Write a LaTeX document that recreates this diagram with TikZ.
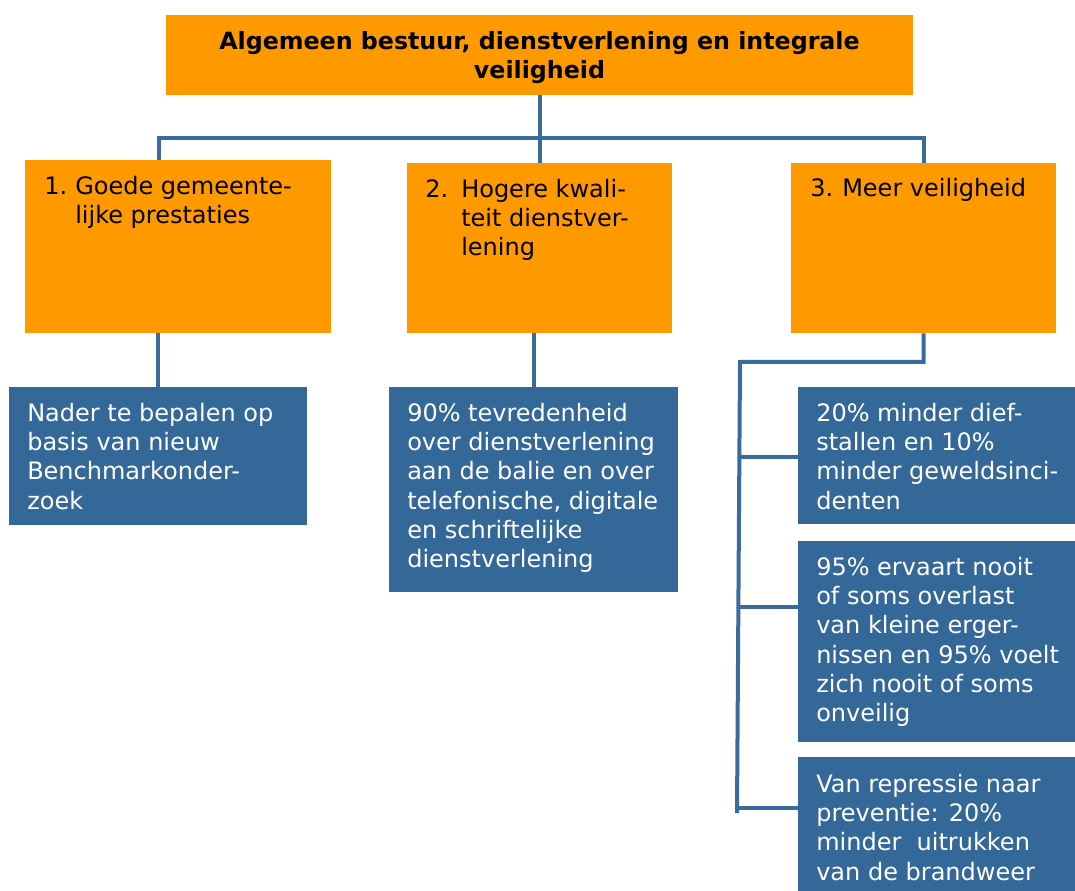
\documentclass[tikz,border=0pt]{standalone}
\usepackage{fontspec}
\setmainfont{DejaVu Sans}
\usetikzlibrary{fit}
\definecolor{oranje}{HTML}{FF9900}
\definecolor{blauw}{HTML}{346899}
\definecolor{lijn}{HTML}{3A6B9D}
\tikzset{
  orangebox/.style={fill=oranje, inner sep=0pt},
  bluebox/.style={fill=blauw, inner sep=0pt},
  conn/.style={draw=lijn, line width=3pt},
  txt/.style={anchor=north west, inner sep=0pt, align=left, font=\fontsize{18}{22}\selectfont},
  wtxt/.style={txt, text=white}
}
\begin{document}
\begin{tikzpicture}[x=0.75pt, y=-0.75pt]
\useasboundingbox (0,0) rectangle (1075,891);

% top box
\node[orangebox, fit={(166,15) (913,95)}] (top) {};
\node[txt, anchor=north, align=center, font=\fontsize{17.8}{22}\selectfont\bfseries] (title) at (539.5,28.5) {\strut Algemeen bestuur, dienstverlening en integrale\\veiligheid};

% goals
\node[orangebox, fit={(25,160) (331,333)}] (g1) {};
\node[orangebox, fit={(407,163) (672,333)}] (g2) {};
\node[orangebox, fit={(791,163) (1056,333)}] (g3) {};
\node[txt] (n1) at (44,173.5) {\strut 1.};
\node[txt] (t1) at (75,173.5) {\strut Goede gemeente-\\lijke prestaties};
\node[txt] (n2) at (425,176.5) {\strut 2.};
\node[txt] (t2) at (461,176.5) {\strut Hogere kwali-\\teit dienstver-\\lening};
\node[txt] (n3) at (810,175.5) {\strut 3.};
\node[txt] (t3) at (842,175.5) {\strut Meer veiligheid};

% targets
\node[bluebox, fit={(9,387) (307,525)}] (b1) {};
\node[bluebox, fit={(389,387) (678,592)}] (b2) {};
\node[bluebox, fit={(798,387) (1075,524)}] (b3a) {};
\node[bluebox, fit={(798,541) (1075,742)}] (b3b) {};
\node[bluebox, fit={(798,757) (1075,891)}] (b3c) {};
\node[wtxt] (s1) at (27,400.5) {\strut Nader te bepalen op\\basis van nieuw\\Benchmarkonder-\\zoek};
\node[wtxt] (s2) at (407,400.5) {\strut 90\% tevredenheid\\over dienstverlening\\aan de balie en over\\telefonische, digitale\\en schriftelijke\\dienstverlening};
\node[wtxt] (s3a) at (816,400.5) {\strut 20\% minder dief-\\stallen en 10\%\\minder geweldsinci-\\denten};
\node[wtxt] (s3b) at (816,554.5) {\strut 95\% ervaart nooit\\of soms overlast\\van kleine erger-\\nissen en 95\% voelt\\zich nooit of soms\\onveilig};
\node[wtxt] (s3c) at (816,771.5) {\strut Van repressie naar\\preventie: 20\%\\minder\ \ uitrukken\\van de brandweer};

% lines
\coordinate (h1) at (159,138);
\coordinate (k0) at (740,362);
\coordinate (k1) at (739.3,457);
\coordinate (k2) at (738.6,607);
\coordinate (k3) at (737.1,808);
\coordinate (k4) at (737,813);
\draw[conn] (top.south) -- (g2.north);
\draw[conn] (g1.north -| h1) -- (h1) -| (g3.north);
\draw[conn] (b1.north) -- (b1.north |- g1.south);
\draw[conn] (b2.north) -- (b2.north |- g2.south);
\draw[conn] (g3.south) |- (k0) -- (k4);
\draw[conn] (k1) -- (k1 -| b3a.west);
\draw[conn] (k2) -- (k2 -| b3b.west);
\draw[conn] (k3) -- (k3 -| b3c.west);

\end{tikzpicture}
\end{document}
